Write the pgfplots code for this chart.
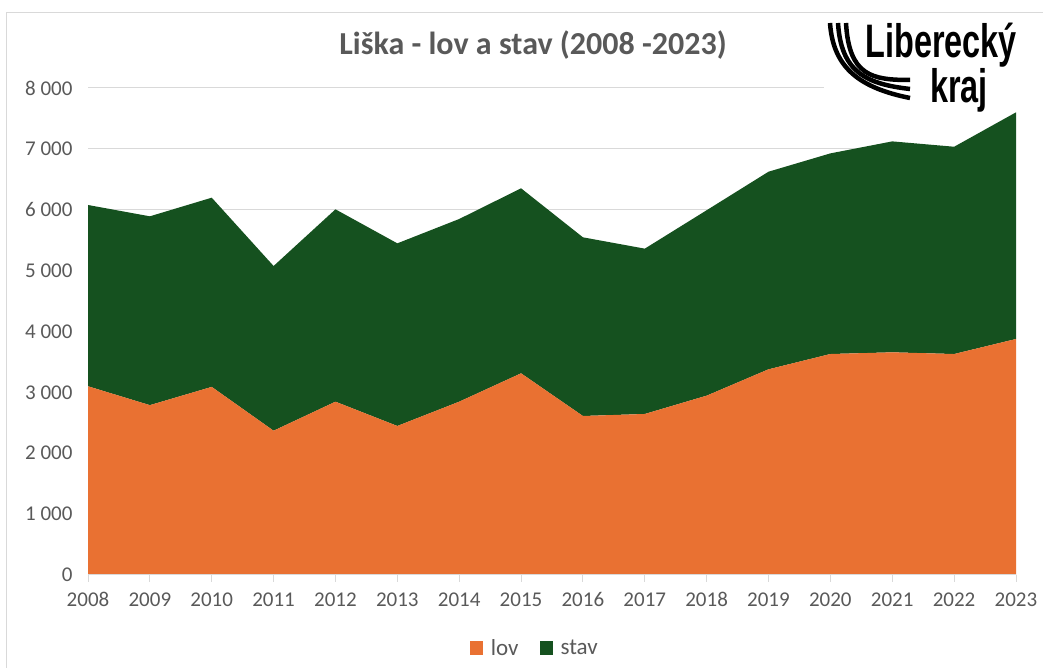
\documentclass[border=0pt]{standalone}
\usepackage{fontspec}
\setmainfont{Carlito}
\newfontfamily\logofont{Liberation Sans}
\usepackage{pgfplots}
\pgfplotsset{compat=1.18}
\definecolor{lovc}{RGB}{233,113,50}
\definecolor{stavc}{RGB}{21,81,31}
\definecolor{txtc}{RGB}{89,89,89}
\definecolor{gridc}{RGB}{217,217,217}
\begin{document}
\begin{tikzpicture}[x=1pt,y=1pt]
\path[use as bounding box] (0,0) rectangle (1043,668);
\draw[gridc, line width=1pt] (6,0) -- (6,655) -- (1043,655);
\begin{axis}[
  at={(88pt,93pt)}, anchor=south west,
  scale only axis, width=928pt, height=487pt,
  xmin=2008, xmax=2023, ymin=0, ymax=8000,
  stack plots=y,
  axis line style={draw=none},
  xtick={2008,...,2023},
  xticklabels={2008,2009,2010,2011,2012,2013,2014,2015,2016,2017,2018,2019,2020,2021,2022,2023},
  ytick={0,1000,...,8000},
  yticklabels={0,1 000,2 000,3 000,4 000,5 000,6 000,7 000,8 000},
  ymajorgrids, grid style={gridc, line width=1pt},
  major tick length=0pt,
  tick label style={font=\fontsize{21}{25}\selectfont, text=txtc},
  yticklabel style={xshift=-12pt},
  xticklabel style={yshift=-14pt},
  legend style={at={(0.482,-0.15)}, anchor=center, draw=none, fill=none,
    legend columns=2, font=\fontsize{23}{27}\selectfont, text=txtc,
    nodes={inner xsep=3pt},
    /tikz/every even column/.append style={column sep=18pt}},
  legend image code/.code={\fill[#1] (0pt,-7pt) rectangle (13pt,7pt); \path (18pt,0pt);},
]
\addplot[fill=lovc, draw=none] coordinates {
(2008,3100) (2009,2790) (2010,3090) (2011,2370) (2012,2847) (2013,2448)
(2014,2847) (2015,3313) (2016,2612) (2017,2645) (2018,2946) (2019,3379)
(2020,3630) (2021,3658) (2022,3630) (2023,3877)} \closedcycle;
\addlegendentry{lov}
\addplot[fill=stavc, draw=none] coordinates {
(2008,2978) (2009,3102) (2010,3108) (2011,2706) (2012,3160) (2013,3000)
(2014,3001) (2015,3039) (2016,2935) (2017,2716) (2018,3046) (2019,3246)
(2020,3296) (2021,3465) (2022,3405) (2023,3723)} \closedcycle;
\addlegendentry{stav}
\end{axis}
% x axis line and ticks
\draw[gridc, line width=1pt] (88,93) -- (1016,93);
\foreach \i in {0,...,15} {\draw[gridc, line width=1pt] ({88+\i*61.867},93) -- ({88+\i*61.867},86);}
% title
\node[text=txtc, font=\fontsize{32}{36}\selectfont\bfseries] at (533,623) {Liška - lov a stav (2008 -2023)};
% logo
\fill[white] (824,570) rectangle (1022,655);
\foreach \i in {0,1,2} {
  \draw[black, line width=4.5pt] ({830+8*\i},645) .. controls ({833+8*\i},{600-4*\i}) and ({860+6*\i},{580+4*\i}) .. ({910},{570+9*\i});
}
\node[anchor=north east, align=right, font=\logofont\bfseries\fontsize{47}{33}\selectfont, xscale=0.69, inner sep=0pt] at (1017,645) {Liberecký\\kraj\hspace*{42pt}};
\end{tikzpicture}
\end{document}
